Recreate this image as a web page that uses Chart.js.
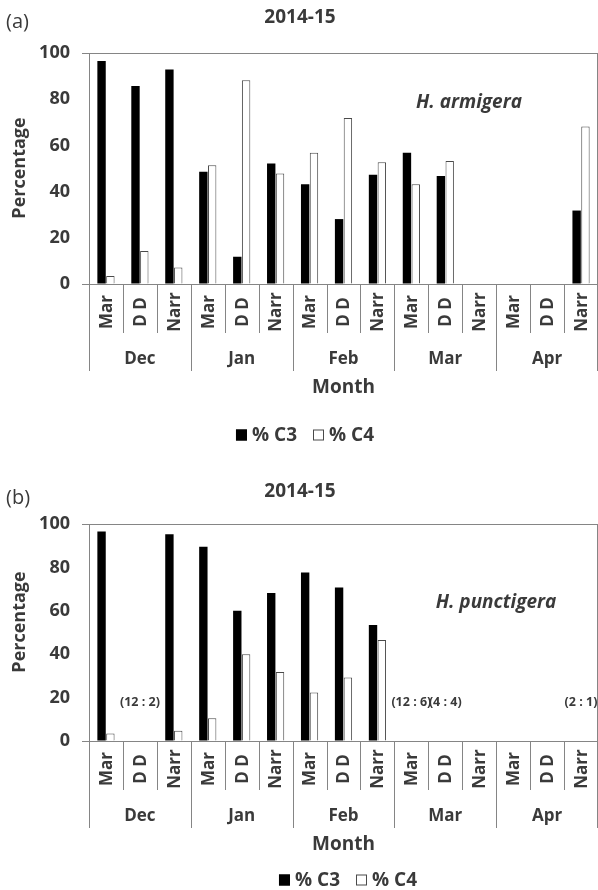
<!DOCTYPE html>
<html>
<head>
<meta charset="utf-8">
<script src="https://cdn.jsdelivr.net/npm/chart.js@4.4.1/dist/chart.umd.min.js"></script>
<style>
  body { margin: 0; background: #fff; }
  canvas { display: block; }
</style>
</head>
<body>
<canvas id="chartA" width="598" height="445"></canvas>
<canvas id="chartB" width="598" height="445"></canvas>
<script>
// sites sampled each month, and the months
const subLabels = ['Mar', 'D D', 'Narr'];
const months = ['Dec', 'Jan', 'Feb', 'Mar', 'Apr'];
const yTicks = [0, 20, 40, 60, 80, 100];

// (a) H. armigera, % C3 / % C4
const armigeraC3 = [96.5, 85.7, 92.9, 48.6, 11.8, 52.2, 43.2, 28.1, 47.3, 56.8, 46.8, null, null, null, 31.8];
const armigeraC4 = [3.5, 14.3, 7.1, 51.4, 88.2, 47.8, 56.8, 71.9, 52.7, 43.2, 53.2, null, null, null, 68.2];

// (b) H. punctigera, % C3 / % C4
const punctigeraC3 = [96.5, null, 95.3, 89.5, 60.0, 68.2, 77.7, 70.7, 53.4, null, null, null, null, null, null];
const punctigeraC4 = [3.5, null, 4.7, 10.5, 40.0, 31.8, 22.3, 29.3, 46.6, null, null, null, null, null, null];

// ratios written over the groups with too few moths in (b)
const noteIndex = [1, 9, 10, 14];
const noteText = ['(12 : 2)', '(12 : 6)', '(4 : 4)', '(2 : 1)'];
const noteValue = 18;

const FONT = '"Open Sans", sans-serif';
const TXT = '#3a3a3a';
const LINE = '#858585';

const categories = months.flatMap(() => subLabels);

// everything Excel draws around the bars: axis groups, titles, legend
const decoPlugin = {
  id: 'deco',
  afterDraw(chart, args, opts) {
    const ctx = chart.ctx;
    const x = chart.scales.x, y = chart.scales.y;
    const area = chart.chartArea;
    const zero = y.getPixelForValue(0);
    const half = (x.getPixelForValue(1) - x.getPixelForValue(0)) / 2;
    const n = chart.data.labels.length;

    ctx.save();
    ctx.strokeStyle = LINE;
    ctx.lineWidth = 1;

    // separators under the axis
    for (let i = 0; i <= n; i++) {
      let px = Math.round(x.getPixelForValue(i) - half) + 0.5;
      if (px > area.right) px = Math.floor(area.right) - 0.5;
      const len = i % 3 === 0 ? 87 : 49;
      ctx.beginPath();
      ctx.moveTo(px, zero);
      ctx.lineTo(px, zero + len);
      ctx.stroke();
    }
    // right border of the plot
    const rx = Math.floor(area.right) - 0.5;
    ctx.beginPath();
    ctx.moveTo(rx, area.top);
    ctx.lineTo(rx, zero);
    ctx.stroke();

    ctx.fillStyle = TXT;
    ctx.textBaseline = 'middle';

    // site labels, vertical
    ctx.font = 'bold 17px ' + FONT;
    ctx.textAlign = 'center';
    chart.data.labels.forEach((lab, i) => {
      ctx.save();
      ctx.translate(x.getPixelForValue(i), zero + 28);
      ctx.rotate(-Math.PI / 2);
      ctx.fillText(lab, 0, 1);
      ctx.restore();
    });

    // month labels
    ctx.font = 'bold 17px ' + FONT;
    months.forEach((m, i) => {
      ctx.fillText(m, x.getPixelForValue(i * 3 + 1), zero + 75);
    });

    // axis titles
    ctx.font = 'bold 19px ' + FONT;
    ctx.fillText('Month', (area.left + area.right) / 2, zero + 104);
    ctx.save();
    ctx.translate(20, opts.yTitleY);
    ctx.rotate(-Math.PI / 2);
    ctx.font = 'bold 18px ' + FONT;
    ctx.fillText('Percentage', 0, 0);
    ctx.restore();

    // chart title and panel tag
    ctx.font = 'bold 19px ' + FONT;
    ctx.fillText('2014-15', 300, opts.titleY);
    ctx.textAlign = 'left';
    ctx.font = '20px ' + FONT;
    ctx.fillText(opts.tag, 6, opts.tagY);

    // species name
    ctx.textAlign = 'center';
    ctx.font = 'italic bold 19px ' + FONT;
    ctx.fillText(opts.species, opts.speciesX, opts.speciesY);

    // ratio notes
    if (opts.notes) {
      ctx.font = 'bold 12.5px ' + FONT;
      noteIndex.forEach((idx, k) => {
        ctx.fillText(noteText[k], x.getPixelForValue(idx), y.getPixelForValue(noteValue));
      });
    }

    // legend
    ctx.font = 'bold 19px ' + FONT;
    const items = chart.data.datasets.map(ds => ({
      label: ds.label, fill: ds.backgroundColor, stroke: ds.borderColor,
      w: 11 + 5 + ctx.measureText(ds.label).width
    }));
    const total = items.reduce((s, it) => s + it.w, 0) + 16 * (items.length - 1);
    let lx = opts.legendX - total / 2;
    const ly = opts.legendY;
    ctx.textAlign = 'left';
    items.forEach(it => {
      ctx.fillStyle = it.fill;
      ctx.fillRect(lx, ly - 5.5, 11, 11);
      ctx.strokeStyle = it.stroke;
      ctx.strokeRect(lx + 0.5, ly - 5, 10, 10);
      ctx.fillStyle = TXT;
      ctx.fillText(it.label, lx + 16, ly + 1);
      lx += it.w + 16;
    });
    ctx.restore();
  }
};

function makeChart(id, c3, c4, deco, padTop, xHeight) {
  return new Chart(document.getElementById(id), {
    type: 'bar',
    data: {
      labels: categories,
      datasets: [
        { label: '% C3', data: c3, backgroundColor: '#000000', borderColor: '#000000', borderWidth: 0 },
        { label: '% C4', data: c4, backgroundColor: '#ffffff', borderColor: '#4a4a4a', borderWidth: 1 }
      ]
    },
    options: {
      responsive: false,
      animation: false,
      layout: { padding: { top: padTop, left: 0, right: 0, bottom: 0 } },
      datasets: { bar: { categoryPercentage: 0.52, barPercentage: 0.95 } },
      scales: {
        x: {
          grid: { display: false, drawTicks: false },
          border: { display: true, color: LINE, width: 1 },
          ticks: { display: false },
          afterFit: s => { s.height = xHeight; }
        },
        y: {
          min: 0,
          max: 100,
          afterBuildTicks: s => { s.ticks = yTicks.map(v => ({ value: v })); },
          grid: {
            color: c => (c.tick && c.tick.value === 100 ? LINE : 'rgba(0,0,0,0)'),
            tickColor: c => (c.tick && (c.tick.value === 100 || c.tick.value === 0) ? LINE : 'rgba(0,0,0,0)'),
            tickLength: 7
          },
          border: { display: true, color: LINE, width: 1 },
          ticks: { color: TXT, padding: 12, font: { family: FONT, size: 18, weight: 'bold' } },
          afterFit: s => { s.width = 89; }
        }
      },
      plugins: {
        legend: { display: false },
        tooltip: { enabled: false },
        deco: deco
      }
    },
    plugins: [decoPlugin]
  });
}

makeChart('chartA', armigeraC3, armigeraC4, {
  tag: '(a)', tagY: 22, titleY: 18, yTitleY: 168,
  species: 'H. armigera', speciesX: 469, speciesY: 103,
  legendX: 305, legendY: 435, notes: false
}, 53, 161);

makeChart('chartB', punctigeraC3, punctigeraC4, {
  tag: '(b)', tagY: 53, titleY: 47, yTitleY: 177,
  species: 'H. punctigera', speciesX: 496, speciesY: 158,
  legendX: 348, legendY: 435, notes: true
}, 79, 149);
</script>
</body>
</html>
